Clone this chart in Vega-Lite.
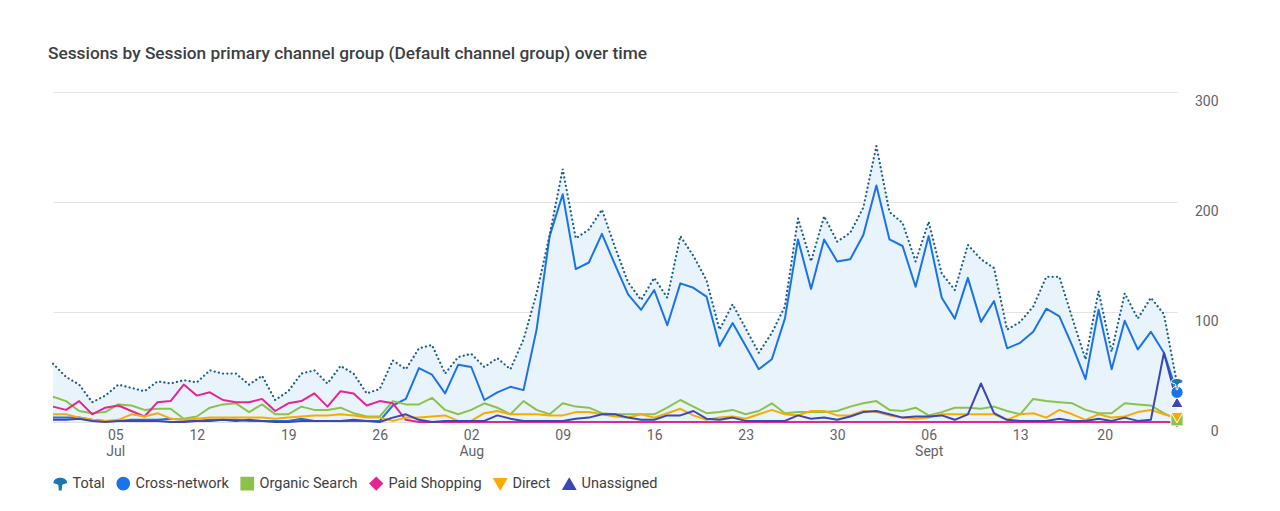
{
"$schema": "https://vega.github.io/schema/vega-lite/v6.json",
"width": 1124,
"height": 330,
"autosize": {"type": "none"},
"padding": {"left": 53, "top": 92, "right": 103, "bottom": 89},
"background": "#ffffff",
"title": {"text": "Sessions by Session primary channel group (Default channel group) over time", "anchor": "start", "frame": "group", "dx": -5, "offset": 30, "font": "Roboto", "fontSize": 17.3, "fontWeight": 500, "color": "#3c4043"},
"config": {
  "font": "Roboto",
  "view": {"stroke": null},
  "legend": {"orient": "bottom", "direction": "horizontal", "title": null, "labelFont": "Roboto", "labelFontSize": 14.5, "labelColor": "#3c4043", "symbolSize": 150, "labelOffset": 5, "columnPadding": 9, "offset": 18, "symbolOpacity": 1}
},
"data": {"values": [
{"date":"2023-07-01","channel":"Total","sessions":53},{"date":"2023-07-02","channel":"Total","sessions":41},{"date":"2023-07-03","channel":"Total","sessions":34},{"date":"2023-07-04","channel":"Total","sessions":18},{"date":"2023-07-05","channel":"Total","sessions":24},{"date":"2023-07-06","channel":"Total","sessions":34},{"date":"2023-07-07","channel":"Total","sessions":31},{"date":"2023-07-08","channel":"Total","sessions":28},{"date":"2023-07-09","channel":"Total","sessions":37},{"date":"2023-07-10","channel":"Total","sessions":35},{"date":"2023-07-11","channel":"Total","sessions":38},{"date":"2023-07-12","channel":"Total","sessions":36},{"date":"2023-07-13","channel":"Total","sessions":47},{"date":"2023-07-14","channel":"Total","sessions":44},{"date":"2023-07-15","channel":"Total","sessions":44},{"date":"2023-07-16","channel":"Total","sessions":34},{"date":"2023-07-17","channel":"Total","sessions":42},{"date":"2023-07-18","channel":"Total","sessions":20},{"date":"2023-07-19","channel":"Total","sessions":28},{"date":"2023-07-20","channel":"Total","sessions":44},{"date":"2023-07-21","channel":"Total","sessions":47},{"date":"2023-07-22","channel":"Total","sessions":35},{"date":"2023-07-23","channel":"Total","sessions":51},{"date":"2023-07-24","channel":"Total","sessions":44},{"date":"2023-07-25","channel":"Total","sessions":26},{"date":"2023-07-26","channel":"Total","sessions":30},{"date":"2023-07-27","channel":"Total","sessions":56},{"date":"2023-07-28","channel":"Total","sessions":48},{"date":"2023-07-29","channel":"Total","sessions":67},{"date":"2023-07-30","channel":"Total","sessions":70},{"date":"2023-07-31","channel":"Total","sessions":44},
{"date":"2023-08-01","channel":"Total","sessions":59},{"date":"2023-08-02","channel":"Total","sessions":62},{"date":"2023-08-03","channel":"Total","sessions":50},{"date":"2023-08-04","channel":"Total","sessions":58},{"date":"2023-08-05","channel":"Total","sessions":48},{"date":"2023-08-06","channel":"Total","sessions":75},{"date":"2023-08-07","channel":"Total","sessions":117},{"date":"2023-08-08","channel":"Total","sessions":170},{"date":"2023-08-09","channel":"Total","sessions":230},{"date":"2023-08-10","channel":"Total","sessions":167},{"date":"2023-08-11","channel":"Total","sessions":175},{"date":"2023-08-12","channel":"Total","sessions":193},{"date":"2023-08-13","channel":"Total","sessions":159},{"date":"2023-08-14","channel":"Total","sessions":127},{"date":"2023-08-15","channel":"Total","sessions":111},{"date":"2023-08-16","channel":"Total","sessions":131},{"date":"2023-08-17","channel":"Total","sessions":113},{"date":"2023-08-18","channel":"Total","sessions":169},{"date":"2023-08-19","channel":"Total","sessions":151},{"date":"2023-08-20","channel":"Total","sessions":129},{"date":"2023-08-21","channel":"Total","sessions":84},{"date":"2023-08-22","channel":"Total","sessions":107},{"date":"2023-08-23","channel":"Total","sessions":85},{"date":"2023-08-24","channel":"Total","sessions":63},{"date":"2023-08-25","channel":"Total","sessions":81},{"date":"2023-08-26","channel":"Total","sessions":105},{"date":"2023-08-27","channel":"Total","sessions":185},{"date":"2023-08-28","channel":"Total","sessions":146},{"date":"2023-08-29","channel":"Total","sessions":187},{"date":"2023-08-30","channel":"Total","sessions":164},{"date":"2023-08-31","channel":"Total","sessions":172},
{"date":"2023-09-01","channel":"Total","sessions":195},{"date":"2023-09-02","channel":"Total","sessions":251},{"date":"2023-09-03","channel":"Total","sessions":191},{"date":"2023-09-04","channel":"Total","sessions":181},{"date":"2023-09-05","channel":"Total","sessions":146},{"date":"2023-09-06","channel":"Total","sessions":182},{"date":"2023-09-07","channel":"Total","sessions":135},{"date":"2023-09-08","channel":"Total","sessions":120},{"date":"2023-09-09","channel":"Total","sessions":161},{"date":"2023-09-10","channel":"Total","sessions":148},{"date":"2023-09-11","channel":"Total","sessions":140},{"date":"2023-09-12","channel":"Total","sessions":84},{"date":"2023-09-13","channel":"Total","sessions":91},{"date":"2023-09-14","channel":"Total","sessions":105},{"date":"2023-09-15","channel":"Total","sessions":132},{"date":"2023-09-16","channel":"Total","sessions":132},{"date":"2023-09-17","channel":"Total","sessions":94},{"date":"2023-09-18","channel":"Total","sessions":57},{"date":"2023-09-19","channel":"Total","sessions":119},{"date":"2023-09-20","channel":"Total","sessions":64},{"date":"2023-09-21","channel":"Total","sessions":117},{"date":"2023-09-22","channel":"Total","sessions":94},{"date":"2023-09-23","channel":"Total","sessions":113},{"date":"2023-09-24","channel":"Total","sessions":98},{"date":"2023-09-25","channel":"Total","sessions":35},

{"date":"2023-07-01","channel":"Cross-network","sessions":4},{"date":"2023-07-02","channel":"Cross-network","sessions":4},{"date":"2023-07-03","channel":"Cross-network","sessions":4},{"date":"2023-07-04","channel":"Cross-network","sessions":2},{"date":"2023-07-05","channel":"Cross-network","sessions":1},{"date":"2023-07-06","channel":"Cross-network","sessions":1},{"date":"2023-07-07","channel":"Cross-network","sessions":2},{"date":"2023-07-08","channel":"Cross-network","sessions":2},{"date":"2023-07-09","channel":"Cross-network","sessions":2},{"date":"2023-07-10","channel":"Cross-network","sessions":3},{"date":"2023-07-11","channel":"Cross-network","sessions":2},{"date":"2023-07-12","channel":"Cross-network","sessions":1},{"date":"2023-07-13","channel":"Cross-network","sessions":2},{"date":"2023-07-14","channel":"Cross-network","sessions":2},{"date":"2023-07-15","channel":"Cross-network","sessions":2},{"date":"2023-07-16","channel":"Cross-network","sessions":1},{"date":"2023-07-17","channel":"Cross-network","sessions":1},{"date":"2023-07-18","channel":"Cross-network","sessions":1},{"date":"2023-07-19","channel":"Cross-network","sessions":1},{"date":"2023-07-20","channel":"Cross-network","sessions":3},{"date":"2023-07-21","channel":"Cross-network","sessions":1},{"date":"2023-07-22","channel":"Cross-network","sessions":1},{"date":"2023-07-23","channel":"Cross-network","sessions":1},{"date":"2023-07-24","channel":"Cross-network","sessions":1},{"date":"2023-07-25","channel":"Cross-network","sessions":1},{"date":"2023-07-26","channel":"Cross-network","sessions":1},{"date":"2023-07-27","channel":"Cross-network","sessions":15},{"date":"2023-07-28","channel":"Cross-network","sessions":21},{"date":"2023-07-29","channel":"Cross-network","sessions":49},{"date":"2023-07-30","channel":"Cross-network","sessions":43},{"date":"2023-07-31","channel":"Cross-network","sessions":26},
{"date":"2023-08-01","channel":"Cross-network","sessions":52},{"date":"2023-08-02","channel":"Cross-network","sessions":50},{"date":"2023-08-03","channel":"Cross-network","sessions":20},{"date":"2023-08-04","channel":"Cross-network","sessions":27},{"date":"2023-08-05","channel":"Cross-network","sessions":32},{"date":"2023-08-06","channel":"Cross-network","sessions":29},{"date":"2023-08-07","channel":"Cross-network","sessions":84},{"date":"2023-08-08","channel":"Cross-network","sessions":169},{"date":"2023-08-09","channel":"Cross-network","sessions":207},{"date":"2023-08-10","channel":"Cross-network","sessions":139},{"date":"2023-08-11","channel":"Cross-network","sessions":145},{"date":"2023-08-12","channel":"Cross-network","sessions":171},{"date":"2023-08-13","channel":"Cross-network","sessions":143},{"date":"2023-08-14","channel":"Cross-network","sessions":116},{"date":"2023-08-15","channel":"Cross-network","sessions":102},{"date":"2023-08-16","channel":"Cross-network","sessions":120},{"date":"2023-08-17","channel":"Cross-network","sessions":88},{"date":"2023-08-18","channel":"Cross-network","sessions":126},{"date":"2023-08-19","channel":"Cross-network","sessions":122},{"date":"2023-08-20","channel":"Cross-network","sessions":114},{"date":"2023-08-21","channel":"Cross-network","sessions":69},{"date":"2023-08-22","channel":"Cross-network","sessions":90},{"date":"2023-08-23","channel":"Cross-network","sessions":69},{"date":"2023-08-24","channel":"Cross-network","sessions":48},{"date":"2023-08-25","channel":"Cross-network","sessions":57},{"date":"2023-08-26","channel":"Cross-network","sessions":94},{"date":"2023-08-27","channel":"Cross-network","sessions":166},{"date":"2023-08-28","channel":"Cross-network","sessions":121},{"date":"2023-08-29","channel":"Cross-network","sessions":166},{"date":"2023-08-30","channel":"Cross-network","sessions":146},{"date":"2023-08-31","channel":"Cross-network","sessions":148},
{"date":"2023-09-01","channel":"Cross-network","sessions":170},{"date":"2023-09-02","channel":"Cross-network","sessions":215},{"date":"2023-09-03","channel":"Cross-network","sessions":166},{"date":"2023-09-04","channel":"Cross-network","sessions":160},{"date":"2023-09-05","channel":"Cross-network","sessions":123},{"date":"2023-09-06","channel":"Cross-network","sessions":169},{"date":"2023-09-07","channel":"Cross-network","sessions":113},{"date":"2023-09-08","channel":"Cross-network","sessions":94},{"date":"2023-09-09","channel":"Cross-network","sessions":131},{"date":"2023-09-10","channel":"Cross-network","sessions":91},{"date":"2023-09-11","channel":"Cross-network","sessions":110},{"date":"2023-09-12","channel":"Cross-network","sessions":67},{"date":"2023-09-13","channel":"Cross-network","sessions":72},{"date":"2023-09-14","channel":"Cross-network","sessions":82},{"date":"2023-09-15","channel":"Cross-network","sessions":103},{"date":"2023-09-16","channel":"Cross-network","sessions":96},{"date":"2023-09-17","channel":"Cross-network","sessions":69},{"date":"2023-09-18","channel":"Cross-network","sessions":39},{"date":"2023-09-19","channel":"Cross-network","sessions":102},{"date":"2023-09-20","channel":"Cross-network","sessions":48},{"date":"2023-09-21","channel":"Cross-network","sessions":92},{"date":"2023-09-22","channel":"Cross-network","sessions":66},{"date":"2023-09-23","channel":"Cross-network","sessions":82},{"date":"2023-09-24","channel":"Cross-network","sessions":63},{"date":"2023-09-25","channel":"Cross-network","sessions":27},

{"date":"2023-07-01","channel":"Organic Search","sessions":23},{"date":"2023-07-02","channel":"Organic Search","sessions":19},{"date":"2023-07-03","channel":"Organic Search","sessions":10},{"date":"2023-07-04","channel":"Organic Search","sessions":8},{"date":"2023-07-05","channel":"Organic Search","sessions":9},{"date":"2023-07-06","channel":"Organic Search","sessions":16},{"date":"2023-07-07","channel":"Organic Search","sessions":15},{"date":"2023-07-08","channel":"Organic Search","sessions":11},{"date":"2023-07-09","channel":"Organic Search","sessions":12},{"date":"2023-07-10","channel":"Organic Search","sessions":12},{"date":"2023-07-11","channel":"Organic Search","sessions":3},{"date":"2023-07-12","channel":"Organic Search","sessions":5},{"date":"2023-07-13","channel":"Organic Search","sessions":13},{"date":"2023-07-14","channel":"Organic Search","sessions":16},{"date":"2023-07-15","channel":"Organic Search","sessions":17},{"date":"2023-07-16","channel":"Organic Search","sessions":9},{"date":"2023-07-17","channel":"Organic Search","sessions":16},{"date":"2023-07-18","channel":"Organic Search","sessions":7},{"date":"2023-07-19","channel":"Organic Search","sessions":7},{"date":"2023-07-20","channel":"Organic Search","sessions":14},{"date":"2023-07-21","channel":"Organic Search","sessions":11},{"date":"2023-07-22","channel":"Organic Search","sessions":11},{"date":"2023-07-23","channel":"Organic Search","sessions":13},{"date":"2023-07-24","channel":"Organic Search","sessions":8},{"date":"2023-07-25","channel":"Organic Search","sessions":5},{"date":"2023-07-26","channel":"Organic Search","sessions":5},{"date":"2023-07-27","channel":"Organic Search","sessions":19},{"date":"2023-07-28","channel":"Organic Search","sessions":16},{"date":"2023-07-29","channel":"Organic Search","sessions":16},{"date":"2023-07-30","channel":"Organic Search","sessions":22},{"date":"2023-07-31","channel":"Organic Search","sessions":11},
{"date":"2023-08-01","channel":"Organic Search","sessions":7},{"date":"2023-08-02","channel":"Organic Search","sessions":11},{"date":"2023-08-03","channel":"Organic Search","sessions":17},{"date":"2023-08-04","channel":"Organic Search","sessions":13},{"date":"2023-08-05","channel":"Organic Search","sessions":7},{"date":"2023-08-06","channel":"Organic Search","sessions":19},{"date":"2023-08-07","channel":"Organic Search","sessions":11},{"date":"2023-08-08","channel":"Organic Search","sessions":7},{"date":"2023-08-09","channel":"Organic Search","sessions":17},{"date":"2023-08-10","channel":"Organic Search","sessions":14},{"date":"2023-08-11","channel":"Organic Search","sessions":13},{"date":"2023-08-12","channel":"Organic Search","sessions":8},{"date":"2023-08-13","channel":"Organic Search","sessions":7},{"date":"2023-08-14","channel":"Organic Search","sessions":7},{"date":"2023-08-15","channel":"Organic Search","sessions":7},{"date":"2023-08-16","channel":"Organic Search","sessions":7},{"date":"2023-08-17","channel":"Organic Search","sessions":13},{"date":"2023-08-18","channel":"Organic Search","sessions":20},{"date":"2023-08-19","channel":"Organic Search","sessions":14},{"date":"2023-08-20","channel":"Organic Search","sessions":8},{"date":"2023-08-21","channel":"Organic Search","sessions":9},{"date":"2023-08-22","channel":"Organic Search","sessions":11},{"date":"2023-08-23","channel":"Organic Search","sessions":7},{"date":"2023-08-24","channel":"Organic Search","sessions":10},{"date":"2023-08-25","channel":"Organic Search","sessions":17},{"date":"2023-08-26","channel":"Organic Search","sessions":8},{"date":"2023-08-27","channel":"Organic Search","sessions":9},{"date":"2023-08-28","channel":"Organic Search","sessions":9},{"date":"2023-08-29","channel":"Organic Search","sessions":9},{"date":"2023-08-30","channel":"Organic Search","sessions":10},{"date":"2023-08-31","channel":"Organic Search","sessions":14},
{"date":"2023-09-01","channel":"Organic Search","sessions":17},{"date":"2023-09-02","channel":"Organic Search","sessions":19},{"date":"2023-09-03","channel":"Organic Search","sessions":11},{"date":"2023-09-04","channel":"Organic Search","sessions":10},{"date":"2023-09-05","channel":"Organic Search","sessions":13},{"date":"2023-09-06","channel":"Organic Search","sessions":6},{"date":"2023-09-07","channel":"Organic Search","sessions":9},{"date":"2023-09-08","channel":"Organic Search","sessions":13},{"date":"2023-09-09","channel":"Organic Search","sessions":13},{"date":"2023-09-10","channel":"Organic Search","sessions":12},{"date":"2023-09-11","channel":"Organic Search","sessions":14},{"date":"2023-09-12","channel":"Organic Search","sessions":10},{"date":"2023-09-13","channel":"Organic Search","sessions":7},{"date":"2023-09-14","channel":"Organic Search","sessions":21},{"date":"2023-09-15","channel":"Organic Search","sessions":19},{"date":"2023-09-16","channel":"Organic Search","sessions":18},{"date":"2023-09-17","channel":"Organic Search","sessions":17},{"date":"2023-09-18","channel":"Organic Search","sessions":11},{"date":"2023-09-19","channel":"Organic Search","sessions":8},{"date":"2023-09-20","channel":"Organic Search","sessions":8},{"date":"2023-09-21","channel":"Organic Search","sessions":17},{"date":"2023-09-22","channel":"Organic Search","sessions":16},{"date":"2023-09-23","channel":"Organic Search","sessions":15},{"date":"2023-09-24","channel":"Organic Search","sessions":8},{"date":"2023-09-25","channel":"Organic Search","sessions":2},

{"date":"2023-07-01","channel":"Paid Shopping","sessions":14},{"date":"2023-07-02","channel":"Paid Shopping","sessions":11},{"date":"2023-07-03","channel":"Paid Shopping","sessions":19},{"date":"2023-07-04","channel":"Paid Shopping","sessions":7},{"date":"2023-07-05","channel":"Paid Shopping","sessions":13},{"date":"2023-07-06","channel":"Paid Shopping","sessions":15},{"date":"2023-07-07","channel":"Paid Shopping","sessions":10},{"date":"2023-07-08","channel":"Paid Shopping","sessions":5},{"date":"2023-07-09","channel":"Paid Shopping","sessions":18},{"date":"2023-07-10","channel":"Paid Shopping","sessions":19},{"date":"2023-07-11","channel":"Paid Shopping","sessions":34},{"date":"2023-07-12","channel":"Paid Shopping","sessions":24},{"date":"2023-07-13","channel":"Paid Shopping","sessions":27},{"date":"2023-07-14","channel":"Paid Shopping","sessions":20},{"date":"2023-07-15","channel":"Paid Shopping","sessions":18},{"date":"2023-07-16","channel":"Paid Shopping","sessions":18},{"date":"2023-07-17","channel":"Paid Shopping","sessions":21},{"date":"2023-07-18","channel":"Paid Shopping","sessions":10},{"date":"2023-07-19","channel":"Paid Shopping","sessions":17},{"date":"2023-07-20","channel":"Paid Shopping","sessions":19},{"date":"2023-07-21","channel":"Paid Shopping","sessions":26},{"date":"2023-07-22","channel":"Paid Shopping","sessions":14},{"date":"2023-07-23","channel":"Paid Shopping","sessions":28},{"date":"2023-07-24","channel":"Paid Shopping","sessions":26},{"date":"2023-07-25","channel":"Paid Shopping","sessions":15},{"date":"2023-07-26","channel":"Paid Shopping","sessions":19},{"date":"2023-07-27","channel":"Paid Shopping","sessions":17},{"date":"2023-07-28","channel":"Paid Shopping","sessions":2},{"date":"2023-07-29","channel":"Paid Shopping","sessions":0},{"date":"2023-07-30","channel":"Paid Shopping","sessions":0},{"date":"2023-07-31","channel":"Paid Shopping","sessions":0},
{"date":"2023-08-01","channel":"Paid Shopping","sessions":0},{"date":"2023-08-02","channel":"Paid Shopping","sessions":0},{"date":"2023-08-03","channel":"Paid Shopping","sessions":0},{"date":"2023-08-04","channel":"Paid Shopping","sessions":0},{"date":"2023-08-05","channel":"Paid Shopping","sessions":0},{"date":"2023-08-06","channel":"Paid Shopping","sessions":0},{"date":"2023-08-07","channel":"Paid Shopping","sessions":0},{"date":"2023-08-08","channel":"Paid Shopping","sessions":0},{"date":"2023-08-09","channel":"Paid Shopping","sessions":0},{"date":"2023-08-10","channel":"Paid Shopping","sessions":0},{"date":"2023-08-11","channel":"Paid Shopping","sessions":0},{"date":"2023-08-12","channel":"Paid Shopping","sessions":0},{"date":"2023-08-13","channel":"Paid Shopping","sessions":0},{"date":"2023-08-14","channel":"Paid Shopping","sessions":0},{"date":"2023-08-15","channel":"Paid Shopping","sessions":0},{"date":"2023-08-16","channel":"Paid Shopping","sessions":0},{"date":"2023-08-17","channel":"Paid Shopping","sessions":0},{"date":"2023-08-18","channel":"Paid Shopping","sessions":0},{"date":"2023-08-19","channel":"Paid Shopping","sessions":0},{"date":"2023-08-20","channel":"Paid Shopping","sessions":0},{"date":"2023-08-21","channel":"Paid Shopping","sessions":0},{"date":"2023-08-22","channel":"Paid Shopping","sessions":0},{"date":"2023-08-23","channel":"Paid Shopping","sessions":0},{"date":"2023-08-24","channel":"Paid Shopping","sessions":0},{"date":"2023-08-25","channel":"Paid Shopping","sessions":0},{"date":"2023-08-26","channel":"Paid Shopping","sessions":0},{"date":"2023-08-27","channel":"Paid Shopping","sessions":0},{"date":"2023-08-28","channel":"Paid Shopping","sessions":0},{"date":"2023-08-29","channel":"Paid Shopping","sessions":0},{"date":"2023-08-30","channel":"Paid Shopping","sessions":0},{"date":"2023-08-31","channel":"Paid Shopping","sessions":0},
{"date":"2023-09-01","channel":"Paid Shopping","sessions":0},{"date":"2023-09-02","channel":"Paid Shopping","sessions":0},{"date":"2023-09-03","channel":"Paid Shopping","sessions":0},{"date":"2023-09-04","channel":"Paid Shopping","sessions":0},{"date":"2023-09-05","channel":"Paid Shopping","sessions":0},{"date":"2023-09-06","channel":"Paid Shopping","sessions":0},{"date":"2023-09-07","channel":"Paid Shopping","sessions":0},{"date":"2023-09-08","channel":"Paid Shopping","sessions":0},{"date":"2023-09-09","channel":"Paid Shopping","sessions":0},{"date":"2023-09-10","channel":"Paid Shopping","sessions":0},{"date":"2023-09-11","channel":"Paid Shopping","sessions":0},{"date":"2023-09-12","channel":"Paid Shopping","sessions":0},{"date":"2023-09-13","channel":"Paid Shopping","sessions":0},{"date":"2023-09-14","channel":"Paid Shopping","sessions":0},{"date":"2023-09-15","channel":"Paid Shopping","sessions":0},{"date":"2023-09-16","channel":"Paid Shopping","sessions":0},{"date":"2023-09-17","channel":"Paid Shopping","sessions":0},{"date":"2023-09-18","channel":"Paid Shopping","sessions":0},{"date":"2023-09-19","channel":"Paid Shopping","sessions":0},{"date":"2023-09-20","channel":"Paid Shopping","sessions":0},{"date":"2023-09-21","channel":"Paid Shopping","sessions":0},{"date":"2023-09-22","channel":"Paid Shopping","sessions":0},{"date":"2023-09-23","channel":"Paid Shopping","sessions":0},{"date":"2023-09-24","channel":"Paid Shopping","sessions":0},{"date":"2023-09-25","channel":"Paid Shopping","sessions":0},

{"date":"2023-07-01","channel":"Direct","sessions":7},{"date":"2023-07-02","channel":"Direct","sessions":7},{"date":"2023-07-03","channel":"Direct","sessions":4},{"date":"2023-07-04","channel":"Direct","sessions":2},{"date":"2023-07-05","channel":"Direct","sessions":1},{"date":"2023-07-06","channel":"Direct","sessions":2},{"date":"2023-07-07","channel":"Direct","sessions":7},{"date":"2023-07-08","channel":"Direct","sessions":5},{"date":"2023-07-09","channel":"Direct","sessions":8},{"date":"2023-07-10","channel":"Direct","sessions":3},{"date":"2023-07-11","channel":"Direct","sessions":2},{"date":"2023-07-12","channel":"Direct","sessions":3},{"date":"2023-07-13","channel":"Direct","sessions":4},{"date":"2023-07-14","channel":"Direct","sessions":4},{"date":"2023-07-15","channel":"Direct","sessions":4},{"date":"2023-07-16","channel":"Direct","sessions":4},{"date":"2023-07-17","channel":"Direct","sessions":4},{"date":"2023-07-18","channel":"Direct","sessions":3},{"date":"2023-07-19","channel":"Direct","sessions":4},{"date":"2023-07-20","channel":"Direct","sessions":5},{"date":"2023-07-21","channel":"Direct","sessions":6},{"date":"2023-07-22","channel":"Direct","sessions":6},{"date":"2023-07-23","channel":"Direct","sessions":7},{"date":"2023-07-24","channel":"Direct","sessions":6},{"date":"2023-07-25","channel":"Direct","sessions":4},{"date":"2023-07-26","channel":"Direct","sessions":4},{"date":"2023-07-27","channel":"Direct","sessions":1},{"date":"2023-07-28","channel":"Direct","sessions":4},{"date":"2023-07-29","channel":"Direct","sessions":4},{"date":"2023-07-30","channel":"Direct","sessions":5},{"date":"2023-07-31","channel":"Direct","sessions":6},
{"date":"2023-08-01","channel":"Direct","sessions":1},{"date":"2023-08-02","channel":"Direct","sessions":1},{"date":"2023-08-03","channel":"Direct","sessions":8},{"date":"2023-08-04","channel":"Direct","sessions":10},{"date":"2023-08-05","channel":"Direct","sessions":7},{"date":"2023-08-06","channel":"Direct","sessions":7},{"date":"2023-08-07","channel":"Direct","sessions":7},{"date":"2023-08-08","channel":"Direct","sessions":6},{"date":"2023-08-09","channel":"Direct","sessions":6},{"date":"2023-08-10","channel":"Direct","sessions":9},{"date":"2023-08-11","channel":"Direct","sessions":9},{"date":"2023-08-12","channel":"Direct","sessions":7},{"date":"2023-08-13","channel":"Direct","sessions":5},{"date":"2023-08-14","channel":"Direct","sessions":4},{"date":"2023-08-15","channel":"Direct","sessions":7},{"date":"2023-08-16","channel":"Direct","sessions":4},{"date":"2023-08-17","channel":"Direct","sessions":8},{"date":"2023-08-18","channel":"Direct","sessions":12},{"date":"2023-08-19","channel":"Direct","sessions":6},{"date":"2023-08-20","channel":"Direct","sessions":2},{"date":"2023-08-21","channel":"Direct","sessions":4},{"date":"2023-08-22","channel":"Direct","sessions":5},{"date":"2023-08-23","channel":"Direct","sessions":3},{"date":"2023-08-24","channel":"Direct","sessions":7},{"date":"2023-08-25","channel":"Direct","sessions":11},{"date":"2023-08-26","channel":"Direct","sessions":7},{"date":"2023-08-27","channel":"Direct","sessions":6},{"date":"2023-08-28","channel":"Direct","sessions":10},{"date":"2023-08-29","channel":"Direct","sessions":10},{"date":"2023-08-30","channel":"Direct","sessions":6},{"date":"2023-08-31","channel":"Direct","sessions":6},
{"date":"2023-09-01","channel":"Direct","sessions":10},{"date":"2023-09-02","channel":"Direct","sessions":9},{"date":"2023-09-03","channel":"Direct","sessions":6},{"date":"2023-09-04","channel":"Direct","sessions":4},{"date":"2023-09-05","channel":"Direct","sessions":3},{"date":"2023-09-06","channel":"Direct","sessions":4},{"date":"2023-09-07","channel":"Direct","sessions":7},{"date":"2023-09-08","channel":"Direct","sessions":7},{"date":"2023-09-09","channel":"Direct","sessions":7},{"date":"2023-09-10","channel":"Direct","sessions":7},{"date":"2023-09-11","channel":"Direct","sessions":7},{"date":"2023-09-12","channel":"Direct","sessions":2},{"date":"2023-09-13","channel":"Direct","sessions":7},{"date":"2023-09-14","channel":"Direct","sessions":8},{"date":"2023-09-15","channel":"Direct","sessions":4},{"date":"2023-09-16","channel":"Direct","sessions":11},{"date":"2023-09-17","channel":"Direct","sessions":7},{"date":"2023-09-18","channel":"Direct","sessions":2},{"date":"2023-09-19","channel":"Direct","sessions":7},{"date":"2023-09-20","channel":"Direct","sessions":4},{"date":"2023-09-21","channel":"Direct","sessions":5},{"date":"2023-09-22","channel":"Direct","sessions":9},{"date":"2023-09-23","channel":"Direct","sessions":11},{"date":"2023-09-24","channel":"Direct","sessions":7},{"date":"2023-09-25","channel":"Direct","sessions":4},

{"date":"2023-07-01","channel":"Unassigned","sessions":2},{"date":"2023-07-02","channel":"Unassigned","sessions":2},{"date":"2023-07-03","channel":"Unassigned","sessions":3},{"date":"2023-07-04","channel":"Unassigned","sessions":1},{"date":"2023-07-05","channel":"Unassigned","sessions":0},{"date":"2023-07-06","channel":"Unassigned","sessions":1},{"date":"2023-07-07","channel":"Unassigned","sessions":1},{"date":"2023-07-08","channel":"Unassigned","sessions":1},{"date":"2023-07-09","channel":"Unassigned","sessions":1},{"date":"2023-07-10","channel":"Unassigned","sessions":0},{"date":"2023-07-11","channel":"Unassigned","sessions":0},{"date":"2023-07-12","channel":"Unassigned","sessions":1},{"date":"2023-07-13","channel":"Unassigned","sessions":1},{"date":"2023-07-14","channel":"Unassigned","sessions":2},{"date":"2023-07-15","channel":"Unassigned","sessions":1},{"date":"2023-07-16","channel":"Unassigned","sessions":2},{"date":"2023-07-17","channel":"Unassigned","sessions":1},{"date":"2023-07-18","channel":"Unassigned","sessions":0},{"date":"2023-07-19","channel":"Unassigned","sessions":0},{"date":"2023-07-20","channel":"Unassigned","sessions":1},{"date":"2023-07-21","channel":"Unassigned","sessions":1},{"date":"2023-07-22","channel":"Unassigned","sessions":1},{"date":"2023-07-23","channel":"Unassigned","sessions":1},{"date":"2023-07-24","channel":"Unassigned","sessions":2},{"date":"2023-07-25","channel":"Unassigned","sessions":1},{"date":"2023-07-26","channel":"Unassigned","sessions":0},{"date":"2023-07-27","channel":"Unassigned","sessions":4},{"date":"2023-07-28","channel":"Unassigned","sessions":7},{"date":"2023-07-29","channel":"Unassigned","sessions":2},{"date":"2023-07-30","channel":"Unassigned","sessions":0},{"date":"2023-07-31","channel":"Unassigned","sessions":1},
{"date":"2023-08-01","channel":"Unassigned","sessions":1},{"date":"2023-08-02","channel":"Unassigned","sessions":1},{"date":"2023-08-03","channel":"Unassigned","sessions":1},{"date":"2023-08-04","channel":"Unassigned","sessions":6},{"date":"2023-08-05","channel":"Unassigned","sessions":3},{"date":"2023-08-06","channel":"Unassigned","sessions":1},{"date":"2023-08-07","channel":"Unassigned","sessions":1},{"date":"2023-08-08","channel":"Unassigned","sessions":1},{"date":"2023-08-09","channel":"Unassigned","sessions":1},{"date":"2023-08-10","channel":"Unassigned","sessions":3},{"date":"2023-08-11","channel":"Unassigned","sessions":4},{"date":"2023-08-12","channel":"Unassigned","sessions":7},{"date":"2023-08-13","channel":"Unassigned","sessions":7},{"date":"2023-08-14","channel":"Unassigned","sessions":4},{"date":"2023-08-15","channel":"Unassigned","sessions":2},{"date":"2023-08-16","channel":"Unassigned","sessions":2},{"date":"2023-08-17","channel":"Unassigned","sessions":6},{"date":"2023-08-18","channel":"Unassigned","sessions":6},{"date":"2023-08-19","channel":"Unassigned","sessions":10},{"date":"2023-08-20","channel":"Unassigned","sessions":3},{"date":"2023-08-21","channel":"Unassigned","sessions":2},{"date":"2023-08-22","channel":"Unassigned","sessions":4},{"date":"2023-08-23","channel":"Unassigned","sessions":1},{"date":"2023-08-24","channel":"Unassigned","sessions":1},{"date":"2023-08-25","channel":"Unassigned","sessions":1},{"date":"2023-08-26","channel":"Unassigned","sessions":1},{"date":"2023-08-27","channel":"Unassigned","sessions":6},{"date":"2023-08-28","channel":"Unassigned","sessions":3},{"date":"2023-08-29","channel":"Unassigned","sessions":4},{"date":"2023-08-30","channel":"Unassigned","sessions":2},{"date":"2023-08-31","channel":"Unassigned","sessions":5},
{"date":"2023-09-01","channel":"Unassigned","sessions":9},{"date":"2023-09-02","channel":"Unassigned","sessions":10},{"date":"2023-09-03","channel":"Unassigned","sessions":7},{"date":"2023-09-04","channel":"Unassigned","sessions":4},{"date":"2023-09-05","channel":"Unassigned","sessions":5},{"date":"2023-09-06","channel":"Unassigned","sessions":5},{"date":"2023-09-07","channel":"Unassigned","sessions":6},{"date":"2023-09-08","channel":"Unassigned","sessions":2},{"date":"2023-09-09","channel":"Unassigned","sessions":7},{"date":"2023-09-10","channel":"Unassigned","sessions":35},{"date":"2023-09-11","channel":"Unassigned","sessions":8},{"date":"2023-09-12","channel":"Unassigned","sessions":2},{"date":"2023-09-13","channel":"Unassigned","sessions":1},{"date":"2023-09-14","channel":"Unassigned","sessions":1},{"date":"2023-09-15","channel":"Unassigned","sessions":1},{"date":"2023-09-16","channel":"Unassigned","sessions":3},{"date":"2023-09-17","channel":"Unassigned","sessions":1},{"date":"2023-09-18","channel":"Unassigned","sessions":1},{"date":"2023-09-19","channel":"Unassigned","sessions":3},{"date":"2023-09-20","channel":"Unassigned","sessions":1},{"date":"2023-09-21","channel":"Unassigned","sessions":4},{"date":"2023-09-22","channel":"Unassigned","sessions":1},{"date":"2023-09-23","channel":"Unassigned","sessions":2},{"date":"2023-09-24","channel":"Unassigned","sessions":63},{"date":"2023-09-25","channel":"Unassigned","sessions":18}
]},
"encoding": {
  "x": {"field": "date", "type": "temporal", "scale": {"type": "utc"},
    "axis": {"title": null, "grid": false, "domain": false, "ticks": false, "labelOverlap": false, "labelFlush": false,
      "values": [{"year":2023,"month":7,"date":5,"utc":true},{"year":2023,"month":7,"date":12,"utc":true},{"year":2023,"month":7,"date":19,"utc":true},{"year":2023,"month":7,"date":26,"utc":true},{"year":2023,"month":8,"date":2,"utc":true},{"year":2023,"month":8,"date":9,"utc":true},{"year":2023,"month":8,"date":16,"utc":true},{"year":2023,"month":8,"date":23,"utc":true},{"year":2023,"month":8,"date":30,"utc":true},{"year":2023,"month":9,"date":6,"utc":true},{"year":2023,"month":9,"date":13,"utc":true},{"year":2023,"month":9,"date":20,"utc":true}],
      "labelExpr": "[utcFormat(datum.value, '%d'), utcdate(datum.value) <= 7 ? ['Jan','Feb','Mar','Apr','May','Jun','Jul','Aug','Sept','Oct','Nov','Dec'][utcmonth(datum.value)] : '']",
      "labelFont": "Roboto", "labelFontSize": 14, "labelColor": "#5f6368", "labelPadding": 6, "labelBaseline": "top", "labelLineHeight": 16,
      "labelOffset": {"condition": [{"test": "utcmonth(datum.value) == 6 && utcdate(datum.value) == 5", "value": 10}, {"test": "utcmonth(datum.value) == 8 && utcdate(datum.value) == 20", "value": -7}], "value": 0}
    }},
  "y": {"field": "sessions", "type": "quantitative", "scale": {"domain": [0, 300], "nice": false},
    "axis": {"orient": "right", "title": null, "values": [0, 100, 200, 300], "grid": true, "gridColor": "#e3e3e3", "gridWidth": 1, "domain": false, "ticks": false, "labelAlign": "right", "labelPadding": 41, "labelBaseline": "middle", "labelOffset": 9, "labelFont": "Roboto", "labelFontSize": 14, "labelColor": "#5f6368"}}
},
"layer": [
  {"transform": [{"filter": "datum.channel === 'Total'"}],
   "mark": {"type": "area", "color": "#e8f3fc", "opacity": 1}},
  {"transform": [{"filter": "datum.channel !== 'Total'"}],
   "mark": {"type": "line", "strokeWidth": 2, "strokeJoin": "round"},
   "encoding": {"color": {"field": "channel", "type": "nominal",
      "scale": {"domain": ["Total", "Cross-network", "Organic Search", "Paid Shopping", "Direct", "Unassigned"], "range": ["#1b78ad", "#1a73e8", "#8bc34a", "#e52592", "#f9ab00", "#3c46b4"]}}}},
  {"transform": [{"filter": "datum.channel === 'Total'"}],
   "mark": {"type": "line", "strokeWidth": 2.2, "strokeDash": [0.1, 4.2], "strokeCap": "round", "color": "#1d5f88"},
   "encoding": {}},
  {"transform": [{"filter": "utcmonth(datum.date) == 8 && utcdate(datum.date) == 25"}],
   "mark": {"type": "point", "filled": true, "opacity": 1, "size": 150, "stroke": "#ffffff", "strokeWidth": 1},
   "encoding": {"color": {"field": "channel", "type": "nominal"},
     "order": {"field": "sessions", "type": "quantitative", "sort": "ascending"},
     "shape": {"field": "channel", "type": "nominal",
       "scale": {"domain": ["Total", "Cross-network", "Organic Search", "Paid Shopping", "Direct", "Unassigned"], "range": ["M-1,-0.15 C-1,-1.05 1,-1.05 1,-0.15 C0.6,-0.05 0.3,0 0.2,0.2 L0.12,1 L-0.12,1 L-0.2,0.2 C-0.3,0 -0.6,-0.05 -1,-0.15 Z", "circle", "square", "diamond", "triangle-down", "triangle-up"]}}}}
]
}
